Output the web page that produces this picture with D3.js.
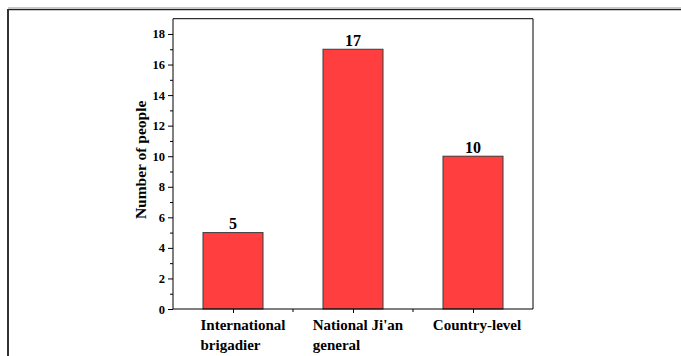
<!DOCTYPE html>
<html>
<head>
<meta charset="utf-8">
<script src="https://cdn.jsdelivr.net/npm/d3@7"></script>
<style>
html,body{margin:0;padding:0;background:#fff;}
svg{display:block;}
text{font-family:"Liberation Serif","Times New Roman",serif;font-weight:bold;fill:#000;}
</style>
</head>
<body>
<svg id="chart" width="681" height="356"></svg>
<script>
const categories = [["International","brigadier"],["National Ji'an","general"],["Country-level"]];
const values = [5, 17, 10];
const yTicks = [0, 2, 4, 6, 8, 10, 12, 14, 16, 18];
const yMinorTicks = [1, 3, 5, 7, 9, 11, 13, 15, 17];
const yTitle = "Number of people";

(function(){
const svg = d3.select("#chart");
const pLeft = 173, pRight = 533, pTop = 18.7, pBottom = 309;

// outer frame
svg.append("line").attr("x1",8).attr("x2",681).attr("y1",7.5).attr("y2",7.5).attr("stroke","#c8c8c8").attr("stroke-width",1);
svg.append("line").attr("x1",8).attr("x2",681).attr("y1",9.5).attr("y2",9.5).attr("stroke","#222").attr("stroke-width",1.6);
svg.append("line").attr("x1",8).attr("x2",8).attr("y1",9).attr("y2",356).attr("stroke","#333").attr("stroke-width",2);

const keys = categories.map((c,i)=>i);
const x = d3.scaleBand().domain(keys).range([pLeft,pRight]).paddingInner(0.5).paddingOuter(0.25);
const y = d3.scaleLinear().domain([0,19]).range([pBottom,pTop]);

// bars
svg.append("g").selectAll("rect").data(values).join("rect")
  .attr("x",(d,i)=>x(i)).attr("width",x.bandwidth())
  .attr("y",d=>y(d)).attr("height",d=>y(0)-y(d))
  .attr("fill","#ff3f3f").attr("stroke","#3a3a3a").attr("stroke-width",1);

// value labels
svg.append("g").selectAll("text").data(values).join("text")
  .attr("x",(d,i)=>x(i)+x.bandwidth()/2).attr("y",d=>y(d)-3.5)
  .attr("text-anchor","middle").attr("font-size",16).text(d=>d);

// frame box top/right
svg.append("line").attr("x1",pLeft).attr("x2",pRight).attr("y1",pTop).attr("y2",pTop).attr("stroke","#000");
svg.append("line").attr("x1",pRight).attr("x2",pRight).attr("y1",pTop).attr("y2",pBottom).attr("stroke","#000");

// y axis
const yAxis = d3.axisLeft(y).tickValues(yTicks).tickSize(5).tickPadding(3).tickFormat(d3.format("d"));
const gy = svg.append("g").attr("transform",`translate(${pLeft},0)`).call(yAxis);
gy.select(".domain").attr("d",`M0,${pTop}V${pBottom}`).attr("stroke","#000");
gy.selectAll("text").attr("font-size",12.5).attr("font-family","Liberation Serif").attr("font-weight","bold");
const yMinor = d3.axisLeft(y).tickValues(yMinorTicks).tickSize(3).tickFormat("");
const gym = svg.append("g").attr("transform",`translate(${pLeft},0)`).call(yMinor);
gym.select(".domain").remove();

// x axis
const xCenter = d3.scalePoint().domain(keys).range([x(0)+x.bandwidth()/2, x(keys.length-1)+x.bandwidth()/2]);
const xAxis = d3.axisBottom(xCenter).tickSize(4).tickFormat("");
const gx = svg.append("g").attr("transform",`translate(0,${pBottom})`).call(xAxis);
gx.select(".domain").attr("d",`M${pLeft},0H${pRight}`).attr("stroke","#000");
const bounds = keys.slice(1).map(i=>(xCenter(i-1)+xCenter(i))/2);
gx.selectAll(".minor").data(bounds).join("line").attr("class","minor")
  .attr("x1",d=>d).attr("x2",d=>d).attr("y1",0).attr("y2",3).attr("stroke","#000");

// x labels (multi-line, left aligned inside block)
const shifts = [10, 5, 4];
categories.forEach((lines,i)=>{
  const t = svg.append("text").attr("font-size",15).attr("text-anchor","start");
  lines.forEach((ln,j)=>{
    t.append("tspan").attr("x",0).attr("y",330 + j*20).text(ln);
  });
  let w = 0;
  t.selectAll("tspan").each(function(){ w = Math.max(w, this.getComputedTextLength()); });
  const cx = xCenter(i) + shifts[i];
  t.attr("transform",`translate(${cx - w/2},0)`);
});

// y title
svg.append("text").attr("transform",`translate(146,${(pTop+pBottom)/2 - 4}) rotate(-90)`)
  .attr("text-anchor","middle").attr("font-size",15.5).text(yTitle);
})();
</script>
</body>
</html>
